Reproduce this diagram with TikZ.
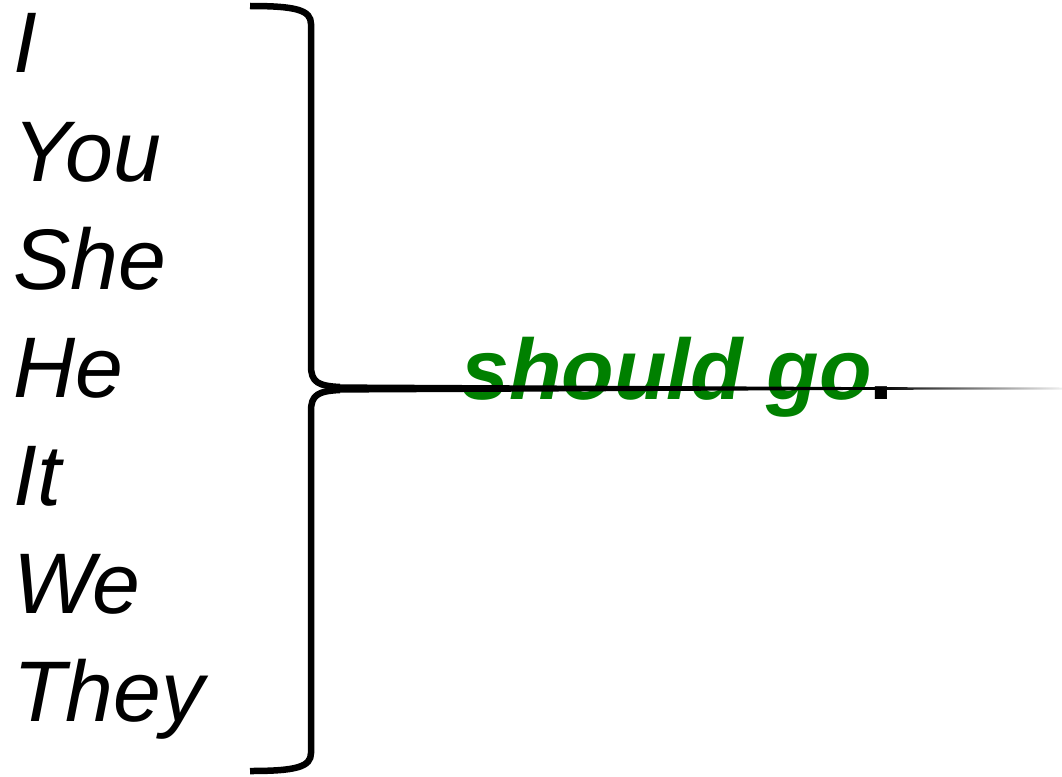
\documentclass[tikz,border=0pt]{standalone}
\usepackage{fontspec}
\setmainfont{Liberation Sans}
\usepackage{tikz}
\usetikzlibrary{calc}
\newcommand{\XLEFT}{13}
\newcommand{\BRACEX}{311}
\newcommand{\TIPY}{388.5}
\newcommand{\LINEPT}{6.5pt}
\definecolor{mygreen}{rgb}{0.0,0.502,0.0}

\begin{document}
\begin{tikzpicture}[x=1pt,y=-1pt,
		pron/.style={anchor=base west, inner sep=0pt, font=\fontsize{86}{100}\selectfont\itshape},
		verb/.style={anchor=base west, inner sep=0pt, font=\fontsize{86}{100}\selectfont\bfseries\itshape}]
	
		\useasboundingbox (0,0) rectangle (1062,776);
		
		%% pronouns
		\node[pron] (p1) at (\XLEFT,72) {I};
		\node[pron] (p2) at (\XLEFT,181) {You};
		\node[pron] (p3) at (\XLEFT,289) {She};
		\node[pron] (p4) at (\XLEFT,397) {He};
		\node[pron] (p5) at (\XLEFT,505) {It};
		\node[pron] (p6) at (\XLEFT,613) {We};
		\node[pron] (p7) at (\XLEFT,721) {They};
		
		%% should go.
		\node[verb] (sg) at (461,399) {\color{mygreen}should go\color{black}\upshape\kern-3pt.};
		
		%% brace
		\coordinate (btop) at (250,6);
		\coordinate (bbot) at (250,771);
		\coordinate (tip) at (340,\TIPY);
		\coordinate (fade) at (880,\TIPY);
		\coordinate (tail) at (1062,\TIPY);
		
		\draw[line width=\LINEPT] (btop) .. controls (296,6) and (\BRACEX,10) .. (\BRACEX,24) -- (\BRACEX,366) .. controls (\BRACEX,382) and (318,386) .. ($(tip)+(0,-1.5)$);
		\draw[line width=\LINEPT] (bbot) .. controls (296,771) and (\BRACEX,767) .. (\BRACEX,753) -- (\BRACEX,411) .. controls (\BRACEX,395) and (318,391) .. ($(tip)+(0,1.5)$);
		
		%% tail of the brace
		\fill[black] ($(tip)+(-10,-4.2)$) -- ($(fade)+(0,-1.3)$) -- ($(fade)+(0,1.3)$) -- ($(tip)+(-10,4.2)$) -- cycle;
		\shade[left color=black, right color=gray!12] ($(fade)+(0,-1.3)$) -- ($(tail)+(0,-1)$) -- ($(tail)+(0,1)$) -- ($(fade)+(0,1.3)$) -- cycle;
		
	\end{tikzpicture}
\end{document}
